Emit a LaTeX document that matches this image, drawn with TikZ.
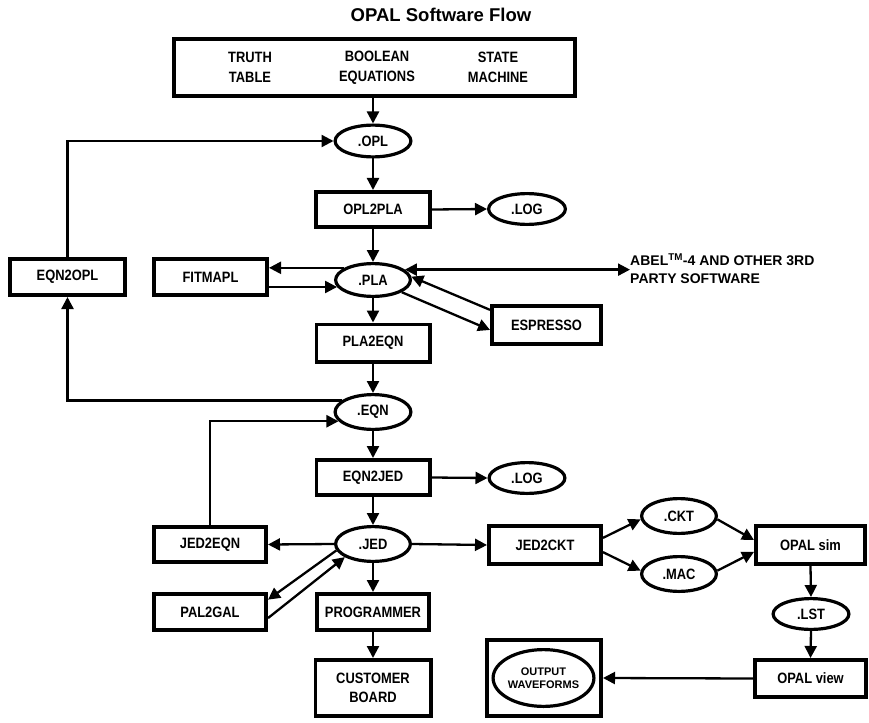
\documentclass[tikz,border=0pt]{standalone}
\usepackage{fontspec}
\setmainfont{Liberation Sans}
\newfontfamily\boxfam{Liberation Sans}[FakeStretch=0.86]
\newfontfamily\plainfam{Liberation Sans}
\newcommand\bxfont{\boxfam\bfseries\fontsize{15}{19.5}\selectfont}
\newcommand\ttlfont{\plainfam\bfseries\fontsize{18.5}{22}\selectfont}
\newcommand\abfont{\plainfam\bfseries\fontsize{14}{18}\selectfont}
\newcommand\smfont{\plainfam\bfseries\fontsize{11}{13}\selectfont}
\usetikzlibrary{arrows.meta,shapes.geometric}
\tikzset{
  box/.style={draw, rectangle, line width=3.6pt, inner sep=0pt, font=\bxfont, align=center},
  oval/.style={draw, ellipse, line width=3.2pt, inner sep=0pt, font=\bxfont, align=center},
  lbl/.style={inner sep=0pt, font=\bxfont, align=center},
  arr/.style={line width=2.3pt, -{Triangle[length=12pt,width=12pt]}},
  arrboth/.style={line width=2.3pt, {Triangle[length=12pt,width=12pt]}-{Triangle[length=12pt,width=12pt]}},
}
\begin{document}
\begin{tikzpicture}[x=1pt,y=-1pt]
\useasboundingbox (0,0) rectangle (869,722);

\node[font=\ttlfont, inner sep=0pt] (title) at (441,15) {OPAL Software Flow};

% top source box
\node[box, minimum width=401.4pt, minimum height=57.4pt] (top) at (374.5,67.5) {};
\node[lbl] (truth) at (250,67.5) {TRUTH\\TABLE};
\node[lbl] (bool) at (377,67.5) {BOOLEAN\\EQUATIONS};
\node[lbl] (state) at (498,67.5) {STATE\\MACHINE};

% main column
\node[oval, minimum width=75.8pt, minimum height=31.8pt] (OPL) at (373,141) {.OPL};
\node[box, minimum width=114.4pt, minimum height=35.4pt] (OPL2PLA) at (373,209.5) {OPL2PLA};
\node[oval, minimum width=76.8pt, minimum height=30.8pt] (LOGa) at (527,209) {.LOG};
\node[oval, minimum width=74.8pt, minimum height=32.8pt] (PLA) at (373,280) {.PLA};
\node[box, minimum width=115.4pt, minimum height=36.4pt] (EQN2OPL) at (67.5,277) {EQN2OPL};
\node[box, minimum width=113.4pt, minimum height=36.4pt] (FITMAPL) at (210.5,277) {FITMAPL};
\node[box, minimum width=109.4pt, minimum height=38.4pt] (ESPRESSO) at (546.5,325) {ESPRESSO};
\node[inner sep=0pt, font=\abfont, align=left, anchor=west] (abel) at (630,269)
  {ABEL\textsuperscript{TM}-4 AND OTHER 3RD\\PARTY SOFTWARE};
\node[box, minimum width=113.4pt, minimum height=37.4pt] (PLA2EQN) at (373,343) {PLA2EQN};
\node[oval, minimum width=75.8pt, minimum height=34.8pt] (EQN) at (373,412) {.EQN};
\node[box, minimum width=113.4pt, minimum height=35.4pt] (EQN2JED) at (373,477.5) {EQN2JED};
\node[oval, minimum width=75.8pt, minimum height=30.8pt] (LOGb) at (527,478) {.LOG};
\node[oval, minimum width=74.8pt, minimum height=34.8pt] (JED) at (373,544) {.JED};
\node[box, minimum width=112.4pt, minimum height=35.4pt] (JED2EQN) at (210,544.5) {JED2EQN};
\node[box, minimum width=112.4pt, minimum height=36.4pt] (PAL2GAL) at (210,612) {PAL2GAL};
\node[box, minimum width=112.4pt, minimum height=36.4pt] (PROG) at (373,612) {PROGRAMMER};
\node[box, minimum width=115.4pt, minimum height=56.4pt] (CUST) at (373,688) {CUSTOMER\\BOARD};

% right branch
\node[box, minimum width=112.4pt, minimum height=38.4pt] (JED2CKT) at (545,545) {JED2CKT};
\node[oval, minimum width=74.8pt, minimum height=34.8pt] (CKT) at (679,516) {.CKT};
\node[oval, minimum width=74.8pt, minimum height=34.8pt] (MAC) at (679,574) {.MAC};
\node[box, minimum width=109.4pt, minimum height=38.4pt] (OPALsim) at (810.5,545) {OPAL sim};
\node[oval, minimum width=75.8pt, minimum height=30.8pt] (LST) at (811,614) {.LST};
\node[box, minimum width=111.4pt, minimum height=37.4pt] (OPALview) at (810.5,678.5) {OPAL view};
\node[box, minimum width=114.4pt, minimum height=76.4pt] (outbox) at (544,678) {};
\node[oval, font=\smfont, minimum width=89.8pt, minimum height=56.8pt] (outell) at (543.5,678) {OUTPUT\\WAVEFORMS};

% connectors
\draw[arr] (top.south -| OPL.north) -- (OPL.north);
\draw[arr] (OPL.south) -- (OPL2PLA.north);
\draw[arr] (OPL2PLA.east) -- (LOGa.west);
\draw[arr] (OPL2PLA.south) -- (PLA.north);
\draw[arr] (PLA.157) -- (FITMAPL.east |- PLA.157);
\draw[arr] (FITMAPL.east |- PLA.191) -- (PLA.191);
\draw[arrboth] (PLA.18) -- (abel.west |- PLA.18);
\draw[arr] (ESPRESSO.165) -- (PLA.5);
\draw[arr] (PLA.-23) -- (ESPRESSO.185);
\draw[arr] (PLA.south) -- (PLA2EQN.north);
\draw[arr] (PLA2EQN.south) -- (EQN.north);
\draw[arr] (EQN.160) -| (EQN2OPL.south);
\draw[arr] (EQN2OPL.north) |- (OPL.west);
\draw[arr] (JED2EQN.north) |- (EQN.195);
\draw[arr] (EQN.south) -- (EQN2JED.north);
\draw[arr] (EQN2JED.east) -- (LOGb.west);
\draw[arr] (EQN2JED.south) -- (JED.north);
\draw[arr] (JED.west) -- (JED2EQN.east);
\draw[arr] (JED.east) -- (JED2CKT.west);
\draw[arr] (JED.south) -- (PROG.north);
\draw[arr] (PROG.south) -- (CUST.north);
\draw[arr] (JED.190) -- (PAL2GAL.12);
\draw[arr] (PAL2GAL.-6) -- (JED.205);
\draw[arr] (JED2CKT.7) -- (CKT.185);
\draw[arr] (JED2CKT.-7) -- (MAC.175);
\draw[arr] (CKT.355) -- (OPALsim.175);
\draw[arr] (MAC.5) -- (OPALsim.187);
\draw[arr] (OPALsim.south) -- (LST.north);
\draw[arr] (LST.south) -- (OPALview.north);
\draw[arr] (OPALview.west) -- (outbox.east);
\end{tikzpicture}
\end{document}
